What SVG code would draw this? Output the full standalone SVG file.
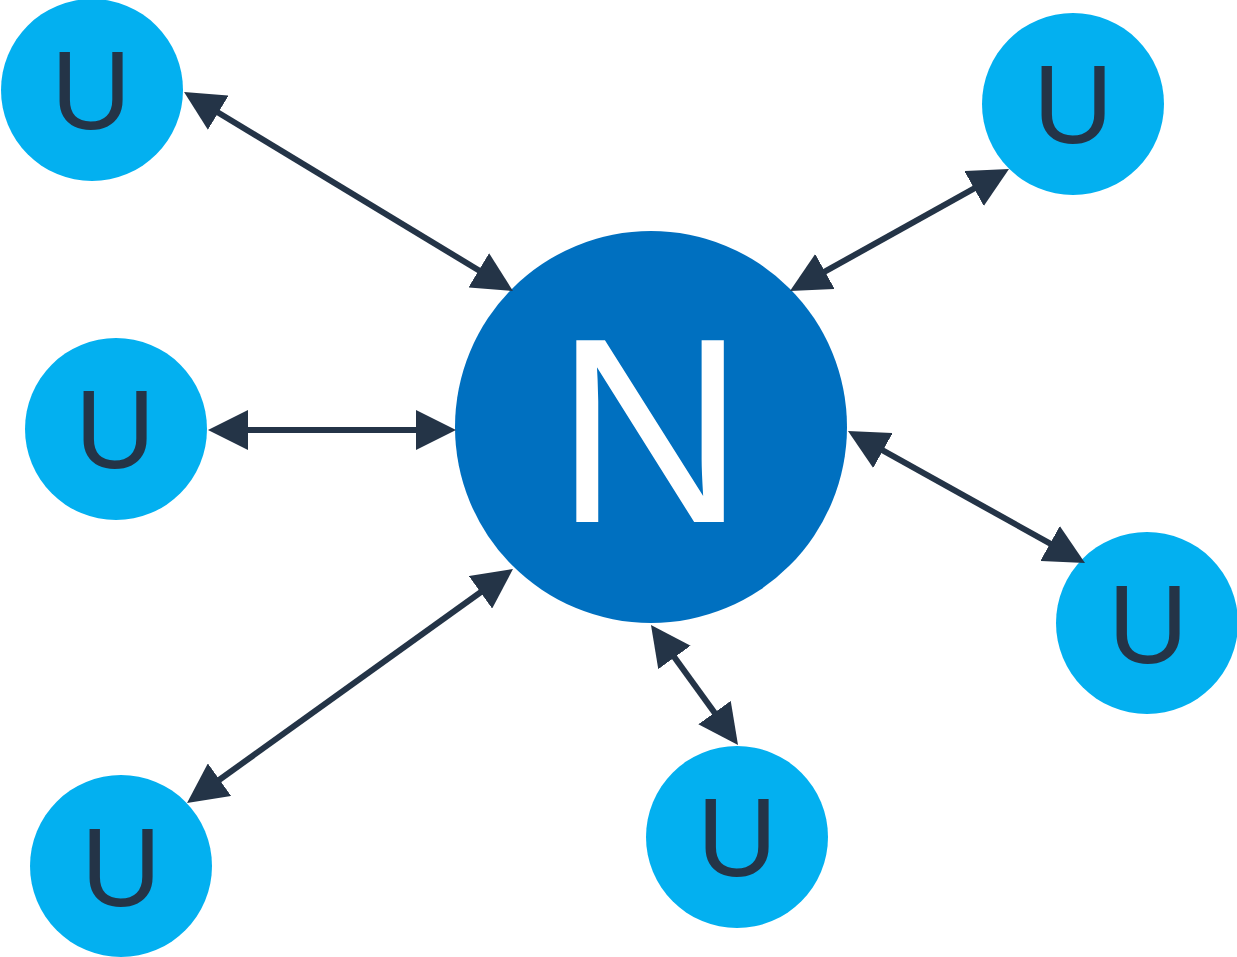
<svg xmlns="http://www.w3.org/2000/svg" width="1237" height="957" viewBox="0 0 1237 957">
<style>
.u circle{fill:#03b0f0}
.u text{fill:#243447;font-family:"Liberation Sans",Arial,sans-serif;font-size:111px;text-anchor:middle}
.n circle{fill:#0070c0}
.n text{fill:#ffffff;font-family:"Liberation Sans",Arial,sans-serif;font-size:264px;text-anchor:middle}
.c line{stroke:#243447;stroke-width:6;marker-start:url(#ah);marker-end:url(#ah)}
</style>
<defs>
<marker id="ah" markerUnits="userSpaceOnUse" markerWidth="40" markerHeight="40" viewBox="0 0 40 40" refX="10" refY="20" orient="auto-start-reverse">
<path d="M0,0 L40,20 L0,40 z" fill="#243447"/>
</marker>
</defs>
<g id="n0" class="n"><circle cx="651" cy="427" r="196"/><text x="650" y="522">N</text></g>
<g id="u1" class="u"><circle cx="92" cy="90" r="91"/><text x="91" y="129">U</text></g>
<g id="u2" class="u"><circle cx="1073" cy="104" r="91"/><text x="1073" y="143">U</text></g>
<g id="u3" class="u"><circle cx="116" cy="429" r="91"/><text x="115" y="468">U</text></g>
<g id="u4" class="u"><circle cx="1147" cy="623" r="91"/><text x="1148" y="663">U</text></g>
<g id="u5" class="u"><circle cx="737" cy="837" r="91"/><text x="737" y="876">U</text></g>
<g id="u6" class="u"><circle cx="121" cy="866" r="91"/><text x="121" y="906">U</text></g>
<g id="connectors" class="c">
<line x1="209.7" y1="107.5" x2="487.3" y2="275.5"/>
<line x1="982.8" y1="183.6" x2="816.2" y2="276.4"/>
<line x1="238" y1="430" x2="426" y2="430"/>
<line x1="874.2" y1="445.6" x2="1058.8" y2="548.4"/>
<line x1="668.6" y1="649.3" x2="720.4" y2="720.7"/>
<line x1="488.6" y1="586.5" x2="211.4" y2="785.5"/>
</g>
</svg>
